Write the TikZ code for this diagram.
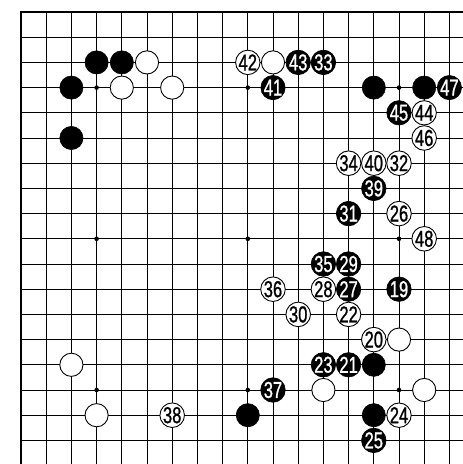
\documentclass[tikz,border=0pt]{standalone}
\usepackage{fontspec}
\newfontfamily\numfont[FakeStretch=0.72,FakeBold=0.9]{Liberation Sans}
\begin{document}
\begin{tikzpicture}[x=1pt,y=-1pt,
  bs/.style={circle, fill=black, draw=black, line width=0.6pt, minimum size=23.2pt, inner sep=0pt, text=white, font=\fontsize{23}{23}\numfont},
  ws/.style={circle, fill=white, draw=black, line width=0.9pt, minimum size=23.2pt, inner sep=0pt, text=black, font=\fontsize{23}{23}\numfont},
  hoshi/.style={circle, fill=black, minimum size=4.6pt, inner sep=0pt},
  gridline/.style={line width=0.9pt, black},
  edgeline/.style={line width=2pt, black}]
\def\G{25.2}
\useasboundingbox (0,0) rectangle (463,464);
% grid
\foreach \i in {1,...,17} \draw[gridline] ({21+\G*\i},12) -- ({21+\G*\i},464);
\foreach \j in {1,...,17} \draw[gridline] (21,{12+\G*\j}) -- (463,{12+\G*\j});
\draw[edgeline] (463,12) -- (21,12) -- (21,464);
% star points
\foreach \c/\r [count=\k] in {3/3,9/3,15/3,3/9,9/9,15/9,3/15,9/15,15/15}
  \node[hoshi] (h\k) at ({21+\G*\c},{12+\G*\r}) {};
% black stones
\foreach \c/\r/\t [count=\k] in {3/2/,4/2/,2/3/,2/5/,11/2/43,12/2/33,10/3/41,14/3/,16/3/,17/3/47,15/4/45,14/7/39,13/8/31,12/10/35,13/10/29,13/11/27,15/11/19,12/14/23,13/14/21,14/14/,10/15/37,9/16/,14/16/,14/17/25}
  \node[bs] (b\k) at ({21+\G*\c},{12+\G*\r}) {\t};
% white stones
\foreach \c/\r/\t [count=\k] in {5/2/,4/3/,6/3/,9/2/42,10/2/,16/4/44,16/5/46,13/6/34,14/6/40,15/6/32,15/8/26,16/9/48,10/11/36,12/11/28,11/12/30,13/12/22,14/13/20,15/13/,12/15/,16/15/,15/16/24,2/14/,3/16/,6/16/38}
  \node[ws] (w\k) at ({21+\G*\c},{12+\G*\r}) {\t};
\end{tikzpicture}
\end{document}
